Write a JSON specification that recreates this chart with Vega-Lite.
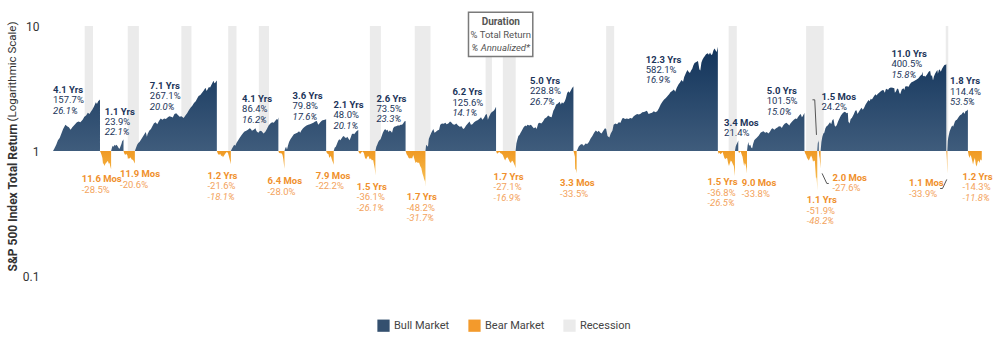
{
"$schema":"https://vega.github.io/schema/vega-lite/v6.json",
"width":936,"height":250,
"autosize":{"type":"none"},
"padding":{"left":49,"top":26,"right":18,"bottom":73},
"background":"white",
"config":{"view":{"stroke":null},"font":"Roboto"},
"datasets":{
"mkt":[
{"t":1942.32,"bull":1},{"t":1942.45,"bull":1.05},{"t":1942.6,"bull":1.12},{"t":1942.75,"bull":1.22},{"t":1942.9,"bull":1.27},{"t":1943.05,"bull":1.38},{"t":1943.2,"bull":1.5},{"t":1943.4,"bull":1.62},{"t":1943.55,"bull":1.58},{"t":1943.7,"bull":1.55},{"t":1943.85,"bull":1.48},{"t":1944.0,"bull":1.55},{"t":1944.2,"bull":1.62},{"t":1944.4,"bull":1.7},{"t":1944.55,"bull":1.72},{"t":1944.7,"bull":1.7},{"t":1944.9,"bull":1.78},{"t":1945.05,"bull":1.88},{"t":1945.2,"bull":1.92},{"t":1945.35,"bull":2.02},{"t":1945.5,"bull":1.98},{"t":1945.6,"bull":2.05},{"t":1945.75,"bull":2.15},{"t":1945.9,"bull":2.28},{"t":1946.05,"bull":2.45},{"t":1946.15,"bull":2.38},{"t":1946.25,"bull":2.5},{"t":1946.35,"bull":2.55},{"t":1946.41,"bull":2.577},
{"t":1946.41,"bear":1},{"t":1946.48,"bear":0.97},{"t":1946.55,"bear":0.93},{"t":1946.62,"bear":0.88},{"t":1946.68,"bear":0.78},{"t":1946.72,"bear":0.8},{"t":1946.8,"bear":0.76},{"t":1946.88,"bear":0.79},{"t":1946.95,"bear":0.8},{"t":1947.02,"bear":0.82},{"t":1947.1,"bear":0.83},{"t":1947.18,"bear":0.79},{"t":1947.25,"bear":0.8},{"t":1947.3,"bear":0.76},{"t":1947.38,"bear":0.715},
{"t":1947.38,"bull":1},{"t":1947.45,"bull":1.06},{"t":1947.52,"bull":1.1},{"t":1947.6,"bull":1.08},{"t":1947.68,"bull":1.12},{"t":1947.75,"bull":1.1},{"t":1947.85,"bull":1.12},{"t":1947.95,"bull":1.09},{"t":1948.05,"bull":1.05},{"t":1948.12,"bull":1.04},{"t":1948.2,"bull":1.09},{"t":1948.28,"bull":1.14},{"t":1948.35,"bull":1.2},{"t":1948.42,"bull":1.22},{"t":1948.46,"bull":1.239},
{"t":1948.46,"bear":1},{"t":1948.52,"bear":0.96},{"t":1948.6,"bear":0.93},{"t":1948.7,"bear":0.95},{"t":1948.8,"bear":0.92},{"t":1948.85,"bear":0.86},{"t":1948.92,"bear":0.88},{"t":1949.0,"bear":0.87},{"t":1949.08,"bear":0.89},{"t":1949.15,"bear":0.86},{"t":1949.25,"bear":0.85},{"t":1949.32,"bear":0.84},{"t":1949.4,"bear":0.81},{"t":1949.45,"bear":0.794},
{"t":1949.45,"bull":1},{"t":1949.55,"bull":1.06},{"t":1949.65,"bull":1.12},{"t":1949.75,"bull":1.16},{"t":1949.85,"bull":1.18},{"t":1949.95,"bull":1.22},{"t":1950.1,"bull":1.28},{"t":1950.25,"bull":1.35},{"t":1950.4,"bull":1.42},{"t":1950.5,"bull":1.3},{"t":1950.55,"bull":1.36},{"t":1950.7,"bull":1.45},{"t":1950.85,"bull":1.5},{"t":1950.95,"bull":1.56},{"t":1951.1,"bull":1.66},{"t":1951.25,"bull":1.7},{"t":1951.4,"bull":1.64},{"t":1951.55,"bull":1.74},{"t":1951.7,"bull":1.82},{"t":1951.85,"bull":1.78},{"t":1952.0,"bull":1.82},{"t":1952.15,"bull":1.8},{"t":1952.3,"bull":1.85},{"t":1952.45,"bull":1.9},{"t":1952.6,"bull":1.88},{"t":1952.75,"bull":1.85},{"t":1952.9,"bull":1.98},{"t":1953.05,"bull":2.0},{"t":1953.2,"bull":1.94},{"t":1953.35,"bull":1.88},{"t":1953.5,"bull":1.9},{"t":1953.7,"bull":1.84},{"t":1953.85,"bull":1.92},{"t":1954.0,"bull":2.0},{"t":1954.15,"bull":2.12},{"t":1954.3,"bull":2.22},{"t":1954.45,"bull":2.3},{"t":1954.6,"bull":2.42},{"t":1954.75,"bull":2.5},{"t":1954.9,"bull":2.65},{"t":1955.0,"bull":2.75},{"t":1955.15,"bull":2.8},{"t":1955.3,"bull":2.92},{"t":1955.45,"bull":3.05},{"t":1955.6,"bull":3.2},{"t":1955.7,"bull":3.02},{"t":1955.78,"bull":3.1},{"t":1955.9,"bull":3.25},{"t":1956.0,"bull":3.22},{"t":1956.1,"bull":3.35},{"t":1956.2,"bull":3.5},{"t":1956.3,"bull":3.65},{"t":1956.38,"bull":3.48},{"t":1956.45,"bull":3.52},{"t":1956.52,"bull":3.6},{"t":1956.59,"bull":3.671},
{"t":1956.59,"bear":1},{"t":1956.68,"bear":0.95},{"t":1956.78,"bear":0.93},{"t":1956.88,"bear":0.95},{"t":1956.97,"bear":0.91},{"t":1957.05,"bear":0.92},{"t":1957.12,"bear":0.89},{"t":1957.22,"bear":0.92},{"t":1957.35,"bear":0.96},{"t":1957.45,"bear":0.98},{"t":1957.55,"bear":0.97},{"t":1957.62,"bear":0.92},{"t":1957.7,"bear":0.86},{"t":1957.76,"bear":0.82},{"t":1957.81,"bear":0.784},
{"t":1957.81,"bull":1},{"t":1957.9,"bull":1.04},{"t":1958.0,"bull":1.08},{"t":1958.1,"bull":1.12},{"t":1958.2,"bull":1.1},{"t":1958.3,"bull":1.16},{"t":1958.45,"bull":1.22},{"t":1958.6,"bull":1.28},{"t":1958.75,"bull":1.34},{"t":1958.9,"bull":1.4},{"t":1959.0,"bull":1.43},{"t":1959.15,"bull":1.45},{"t":1959.3,"bull":1.48},{"t":1959.45,"bull":1.52},{"t":1959.55,"bull":1.5},{"t":1959.65,"bull":1.45},{"t":1959.8,"bull":1.48},{"t":1959.95,"bull":1.52},{"t":1960.05,"bull":1.44},{"t":1960.2,"bull":1.4},{"t":1960.35,"bull":1.45},{"t":1960.5,"bull":1.44},{"t":1960.65,"bull":1.38},{"t":1960.8,"bull":1.42},{"t":1960.95,"bull":1.5},{"t":1961.1,"bull":1.6},{"t":1961.25,"bull":1.66},{"t":1961.4,"bull":1.7},{"t":1961.55,"bull":1.68},{"t":1961.7,"bull":1.75},{"t":1961.82,"bull":1.8},{"t":1961.9,"bull":1.78},{"t":1961.95,"bull":1.864},
{"t":1961.95,"bear":1},{"t":1962.02,"bear":0.96},{"t":1962.1,"bear":0.97},{"t":1962.18,"bear":0.95},{"t":1962.25,"bear":0.96},{"t":1962.32,"bear":0.92},{"t":1962.38,"bear":0.86},{"t":1962.42,"bear":0.8},{"t":1962.45,"bear":0.76},{"t":1962.48,"bear":0.72},
{"t":1962.48,"bull":1},{"t":1962.55,"bull":1.05},{"t":1962.62,"bull":1.08},{"t":1962.7,"bull":1.03},{"t":1962.78,"bull":1.1},{"t":1962.88,"bull":1.18},{"t":1963.0,"bull":1.24},{"t":1963.15,"bull":1.3},{"t":1963.3,"bull":1.36},{"t":1963.45,"bull":1.38},{"t":1963.6,"bull":1.4},{"t":1963.75,"bull":1.44},{"t":1963.85,"bull":1.4},{"t":1963.95,"bull":1.46},{"t":1964.1,"bull":1.52},{"t":1964.25,"bull":1.56},{"t":1964.4,"bull":1.6},{"t":1964.55,"bull":1.62},{"t":1964.7,"bull":1.64},{"t":1964.85,"bull":1.66},{"t":1965.0,"bull":1.68},{"t":1965.15,"bull":1.72},{"t":1965.3,"bull":1.74},{"t":1965.42,"bull":1.62},{"t":1965.5,"bull":1.65},{"t":1965.6,"bull":1.7},{"t":1965.75,"bull":1.75},{"t":1965.9,"bull":1.77},{"t":1966.0,"bull":1.78},{"t":1966.11,"bull":1.798},
{"t":1966.11,"bear":1},{"t":1966.18,"bear":0.96},{"t":1966.25,"bear":0.95},{"t":1966.32,"bear":0.94},{"t":1966.38,"bear":0.88},{"t":1966.45,"bear":0.9},{"t":1966.52,"bear":0.91},{"t":1966.6,"bear":0.86},{"t":1966.68,"bear":0.82},{"t":1966.72,"bear":0.8},{"t":1966.77,"bear":0.778},
{"t":1966.77,"bull":1},{"t":1966.85,"bull":1.06},{"t":1966.95,"bull":1.08},{"t":1967.05,"bull":1.14},{"t":1967.15,"bull":1.2},{"t":1967.25,"bull":1.24},{"t":1967.35,"bull":1.22},{"t":1967.45,"bull":1.26},{"t":1967.55,"bull":1.3},{"t":1967.65,"bull":1.32},{"t":1967.75,"bull":1.28},{"t":1967.85,"bull":1.27},{"t":1967.95,"bull":1.3},{"t":1968.05,"bull":1.26},{"t":1968.15,"bull":1.22},{"t":1968.25,"bull":1.28},{"t":1968.35,"bull":1.36},{"t":1968.45,"bull":1.38},{"t":1968.55,"bull":1.36},{"t":1968.65,"bull":1.4},{"t":1968.75,"bull":1.44},{"t":1968.85,"bull":1.46},{"t":1968.91,"bull":1.48},
{"t":1968.91,"bear":1},{"t":1969.0,"bear":0.96},{"t":1969.1,"bear":0.95},{"t":1969.2,"bear":0.98},{"t":1969.3,"bear":0.99},{"t":1969.4,"bear":0.96},{"t":1969.5,"bear":0.88},{"t":1969.6,"bear":0.86},{"t":1969.7,"bear":0.9},{"t":1969.8,"bear":0.91},{"t":1969.9,"bear":0.86},{"t":1970.0,"bear":0.87},{"t":1970.1,"bear":0.84},{"t":1970.2,"bear":0.85},{"t":1970.28,"bear":0.78},{"t":1970.35,"bear":0.72},{"t":1970.4,"bear":0.639},
{"t":1970.4,"bull":1},{"t":1970.48,"bull":1.08},{"t":1970.56,"bull":1.12},{"t":1970.65,"bull":1.18},{"t":1970.75,"bull":1.22},{"t":1970.85,"bull":1.24},{"t":1970.95,"bull":1.32},{"t":1971.05,"bull":1.4},{"t":1971.15,"bull":1.46},{"t":1971.25,"bull":1.5},{"t":1971.35,"bull":1.46},{"t":1971.45,"bull":1.48},{"t":1971.55,"bull":1.42},{"t":1971.65,"bull":1.46},{"t":1971.75,"bull":1.44},{"t":1971.85,"bull":1.4},{"t":1971.95,"bull":1.52},{"t":1972.05,"bull":1.56},{"t":1972.2,"bull":1.58},{"t":1972.35,"bull":1.6},{"t":1972.5,"bull":1.6},{"t":1972.6,"bull":1.62},{"t":1972.72,"bull":1.62},{"t":1972.82,"bull":1.66},{"t":1972.92,"bull":1.72},{"t":1973.03,"bull":1.735},
{"t":1973.03,"bear":1},{"t":1973.12,"bear":0.94},{"t":1973.2,"bear":0.92},{"t":1973.3,"bear":0.88},{"t":1973.4,"bear":0.87},{"t":1973.5,"bear":0.88},{"t":1973.6,"bear":0.87},{"t":1973.7,"bear":0.93},{"t":1973.8,"bear":0.86},{"t":1973.9,"bear":0.8},{"t":1974.0,"bear":0.82},{"t":1974.1,"bear":0.8},{"t":1974.2,"bear":0.81},{"t":1974.3,"bear":0.76},{"t":1974.4,"bear":0.73},{"t":1974.5,"bear":0.66},{"t":1974.6,"bear":0.62},{"t":1974.68,"bear":0.57},{"t":1974.72,"bear":0.6},{"t":1974.76,"bear":0.518},
{"t":1974.76,"bull":1},{"t":1974.82,"bull":1.12},{"t":1974.9,"bull":1.1},{"t":1974.98,"bull":1.08},{"t":1975.05,"bull":1.25},{"t":1975.15,"bull":1.32},{"t":1975.3,"bull":1.42},{"t":1975.45,"bull":1.5},{"t":1975.55,"bull":1.4},{"t":1975.65,"bull":1.42},{"t":1975.8,"bull":1.46},{"t":1975.95,"bull":1.48},{"t":1976.05,"bull":1.62},{"t":1976.2,"bull":1.66},{"t":1976.35,"bull":1.65},{"t":1976.5,"bull":1.68},{"t":1976.6,"bull":1.64},{"t":1976.75,"bull":1.66},{"t":1976.9,"bull":1.72},{"t":1977.0,"bull":1.7},{"t":1977.15,"bull":1.64},{"t":1977.3,"bull":1.62},{"t":1977.45,"bull":1.66},{"t":1977.6,"bull":1.6},{"t":1977.75,"bull":1.56},{"t":1977.9,"bull":1.58},{"t":1978.05,"bull":1.5},{"t":1978.15,"bull":1.52},{"t":1978.3,"bull":1.6},{"t":1978.45,"bull":1.66},{"t":1978.6,"bull":1.72},{"t":1978.72,"bull":1.62},{"t":1978.85,"bull":1.64},{"t":1979.0,"bull":1.7},{"t":1979.15,"bull":1.74},{"t":1979.3,"bull":1.76},{"t":1979.45,"bull":1.8},{"t":1979.6,"bull":1.86},{"t":1979.72,"bull":1.78},{"t":1979.85,"bull":1.84},{"t":1980.0,"bull":1.95},{"t":1980.1,"bull":1.98},{"t":1980.2,"bull":1.78},{"t":1980.3,"bull":1.88},{"t":1980.45,"bull":2.0},{"t":1980.55,"bull":2.05},{"t":1980.65,"bull":2.08},{"t":1980.75,"bull":2.12},{"t":1980.85,"bull":2.2},{"t":1980.91,"bull":2.256},
{"t":1980.91,"bear":1},{"t":1981.0,"bear":0.95},{"t":1981.1,"bear":0.97},{"t":1981.2,"bear":0.98},{"t":1981.3,"bear":0.96},{"t":1981.4,"bear":0.95},{"t":1981.5,"bear":0.93},{"t":1981.6,"bear":0.88},{"t":1981.7,"bear":0.84},{"t":1981.8,"bear":0.88},{"t":1981.9,"bear":0.89},{"t":1982.0,"bear":0.86},{"t":1982.1,"bear":0.82},{"t":1982.2,"bear":0.8},{"t":1982.3,"bear":0.84},{"t":1982.4,"bear":0.82},{"t":1982.5,"bear":0.78},{"t":1982.56,"bear":0.76},{"t":1982.61,"bear":0.729},
{"t":1982.61,"bull":1},{"t":1982.68,"bull":1.15},{"t":1982.75,"bull":1.22},{"t":1982.85,"bull":1.32},{"t":1982.95,"bull":1.34},{"t":1983.05,"bull":1.4},{"t":1983.15,"bull":1.45},{"t":1983.3,"bull":1.54},{"t":1983.45,"bull":1.6},{"t":1983.55,"bull":1.58},{"t":1983.65,"bull":1.62},{"t":1983.8,"bull":1.6},{"t":1983.95,"bull":1.62},{"t":1984.05,"bull":1.58},{"t":1984.2,"bull":1.52},{"t":1984.35,"bull":1.55},{"t":1984.45,"bull":1.5},{"t":1984.58,"bull":1.66},{"t":1984.7,"bull":1.68},{"t":1984.85,"bull":1.66},{"t":1985.0,"bull":1.72},{"t":1985.15,"bull":1.82},{"t":1985.3,"bull":1.85},{"t":1985.45,"bull":1.92},{"t":1985.6,"bull":1.88},{"t":1985.75,"bull":1.86},{"t":1985.9,"bull":2.1},{"t":1986.0,"bull":2.18},{"t":1986.15,"bull":2.35},{"t":1986.3,"bull":2.4},{"t":1986.45,"bull":2.48},{"t":1986.55,"bull":2.36},{"t":1986.65,"bull":2.45},{"t":1986.75,"bull":2.4},{"t":1986.9,"bull":2.5},{"t":1987.0,"bull":2.65},{"t":1987.1,"bull":2.9},{"t":1987.2,"bull":3.0},{"t":1987.3,"bull":2.92},{"t":1987.4,"bull":3.02},{"t":1987.5,"bull":3.15},{"t":1987.6,"bull":3.25},{"t":1987.65,"bull":3.288},
{"t":1987.65,"bear":1},{"t":1987.72,"bear":0.95},{"t":1987.78,"bear":0.9},{"t":1987.8,"bear":0.7},{"t":1987.84,"bear":0.72},{"t":1987.88,"bear":0.7},{"t":1987.93,"bear":0.665},
{"t":1987.93,"bull":1},{"t":1988.0,"bull":1.03},{"t":1988.1,"bull":1.08},{"t":1988.25,"bull":1.12},{"t":1988.4,"bull":1.14},{"t":1988.55,"bull":1.1},{"t":1988.7,"bull":1.15},{"t":1988.85,"bull":1.14},{"t":1989.0,"bull":1.18},{"t":1989.15,"bull":1.26},{"t":1989.3,"bull":1.32},{"t":1989.45,"bull":1.4},{"t":1989.6,"bull":1.46},{"t":1989.75,"bull":1.42},{"t":1989.85,"bull":1.45},{"t":1990.0,"bull":1.4},{"t":1990.1,"bull":1.38},{"t":1990.25,"bull":1.45},{"t":1990.4,"bull":1.52},{"t":1990.5,"bull":1.5},{"t":1990.62,"bull":1.32},{"t":1990.78,"bull":1.28},{"t":1990.9,"bull":1.38},{"t":1991.05,"bull":1.46},{"t":1991.15,"bull":1.62},{"t":1991.3,"bull":1.66},{"t":1991.45,"bull":1.64},{"t":1991.6,"bull":1.7},{"t":1991.75,"bull":1.68},{"t":1991.9,"bull":1.82},{"t":1992.0,"bull":1.84},{"t":1992.15,"bull":1.8},{"t":1992.3,"bull":1.82},{"t":1992.45,"bull":1.8},{"t":1992.6,"bull":1.84},{"t":1992.75,"bull":1.82},{"t":1992.9,"bull":1.9},{"t":1993.05,"bull":1.94},{"t":1993.2,"bull":1.98},{"t":1993.35,"bull":1.96},{"t":1993.5,"bull":1.99},{"t":1993.65,"bull":2.04},{"t":1993.8,"bull":2.05},{"t":1993.95,"bull":2.08},{"t":1994.05,"bull":2.1},{"t":1994.2,"bull":1.98},{"t":1994.35,"bull":2.0},{"t":1994.5,"bull":2.02},{"t":1994.65,"bull":2.08},{"t":1994.8,"bull":2.04},{"t":1994.95,"bull":2.08},{"t":1995.1,"bull":2.2},{"t":1995.25,"bull":2.35},{"t":1995.4,"bull":2.48},{"t":1995.55,"bull":2.58},{"t":1995.7,"bull":2.66},{"t":1995.85,"bull":2.76},{"t":1996.0,"bull":2.86},{"t":1996.1,"bull":2.95},{"t":1996.25,"bull":3.02},{"t":1996.4,"bull":3.1},{"t":1996.52,"bull":2.98},{"t":1996.65,"bull":3.2},{"t":1996.8,"bull":3.4},{"t":1996.95,"bull":3.55},{"t":1997.05,"bull":3.7},{"t":1997.2,"bull":3.58},{"t":1997.3,"bull":3.9},{"t":1997.45,"bull":4.2},{"t":1997.58,"bull":4.45},{"t":1997.68,"bull":4.3},{"t":1997.8,"bull":4.2},{"t":1997.9,"bull":4.4},{"t":1998.0,"bull":4.55},{"t":1998.1,"bull":4.85},{"t":1998.2,"bull":5.05},{"t":1998.35,"bull":5.15},{"t":1998.5,"bull":5.25},{"t":1998.62,"bull":4.5},{"t":1998.7,"bull":4.4},{"t":1998.8,"bull":5.1},{"t":1998.9,"bull":5.4},{"t":1999.0,"bull":5.6},{"t":1999.1,"bull":5.75},{"t":1999.2,"bull":5.95},{"t":1999.35,"bull":6.05},{"t":1999.45,"bull":5.9},{"t":1999.55,"bull":6.15},{"t":1999.65,"bull":5.85},{"t":1999.75,"bull":5.95},{"t":1999.85,"bull":6.4},{"t":1999.95,"bull":6.6},{"t":2000.05,"bull":6.35},{"t":2000.12,"bull":6.2},{"t":2000.18,"bull":6.5},{"t":2000.23,"bull":6.821},
{"t":2000.23,"bear":1},{"t":2000.3,"bear":0.95},{"t":2000.38,"bear":0.97},{"t":2000.46,"bear":0.94},{"t":2000.55,"bear":0.96},{"t":2000.65,"bear":0.98},{"t":2000.72,"bear":0.93},{"t":2000.8,"bear":0.88},{"t":2000.88,"bear":0.86},{"t":2000.96,"bear":0.88},{"t":2001.05,"bear":0.87},{"t":2001.12,"bear":0.8},{"t":2001.2,"bear":0.76},{"t":2001.28,"bear":0.8},{"t":2001.36,"bear":0.84},{"t":2001.45,"bear":0.82},{"t":2001.55,"bear":0.78},{"t":2001.62,"bear":0.76},{"t":2001.68,"bear":0.68},{"t":2001.72,"bear":0.632},
{"t":2001.72,"bull":1},{"t":2001.78,"bull":1.08},{"t":2001.84,"bull":1.12},{"t":2001.9,"bull":1.15},{"t":2001.96,"bull":1.18},{"t":2002.01,"bull":1.214},
{"t":2002.01,"bear":1},{"t":2002.08,"bear":0.96},{"t":2002.15,"bear":0.98},{"t":2002.22,"bear":0.99},{"t":2002.3,"bear":0.94},{"t":2002.38,"bear":0.9},{"t":2002.45,"bear":0.82},{"t":2002.52,"bear":0.76},{"t":2002.58,"bear":0.8},{"t":2002.65,"bear":0.78},{"t":2002.72,"bear":0.72},{"t":2002.77,"bear":0.662},
{"t":2002.77,"bull":1},{"t":2002.82,"bull":1.1},{"t":2002.88,"bull":1.18},{"t":2002.95,"bull":1.1},{"t":2003.05,"bull":1.12},{"t":2003.15,"bull":1.06},{"t":2003.22,"bull":1.05},{"t":2003.3,"bull":1.14},{"t":2003.4,"bull":1.22},{"t":2003.5,"bull":1.25},{"t":2003.6,"bull":1.27},{"t":2003.7,"bull":1.3},{"t":2003.8,"bull":1.33},{"t":2003.95,"bull":1.4},{"t":2004.05,"bull":1.42},{"t":2004.2,"bull":1.44},{"t":2004.35,"bull":1.4},{"t":2004.5,"bull":1.42},{"t":2004.62,"bull":1.38},{"t":2004.75,"bull":1.42},{"t":2004.9,"bull":1.5},{"t":2005.0,"bull":1.52},{"t":2005.15,"bull":1.48},{"t":2005.3,"bull":1.52},{"t":2005.45,"bull":1.55},{"t":2005.55,"bull":1.58},{"t":2005.7,"bull":1.57},{"t":2005.8,"bull":1.53},{"t":2005.92,"bull":1.6},{"t":2006.05,"bull":1.65},{"t":2006.2,"bull":1.68},{"t":2006.35,"bull":1.64},{"t":2006.45,"bull":1.6},{"t":2006.55,"bull":1.66},{"t":2006.7,"bull":1.72},{"t":2006.85,"bull":1.78},{"t":2007.0,"bull":1.82},{"t":2007.12,"bull":1.8},{"t":2007.2,"bull":1.86},{"t":2007.35,"bull":1.94},{"t":2007.45,"bull":1.98},{"t":2007.55,"bull":1.86},{"t":2007.62,"bull":1.9},{"t":2007.7,"bull":1.96},{"t":2007.77,"bull":2.015},
{"t":2007.77,"bear":1},{"t":2007.85,"bear":0.95},{"t":2007.92,"bear":0.93},{"t":2008.0,"bear":0.88},{"t":2008.08,"bear":0.86},{"t":2008.16,"bear":0.84},{"t":2008.25,"bear":0.88},{"t":2008.35,"bear":0.92},{"t":2008.45,"bear":0.88},{"t":2008.52,"bear":0.82},{"t":2008.6,"bear":0.84},{"t":2008.68,"bear":0.83},{"t":2008.72,"bear":0.72},{"t":2008.78,"bear":0.6},{"t":2008.82,"bear":0.62},{"t":2008.86,"bear":0.56},{"t":2008.89,"bear":0.481},
{"t":2008.89,"bull":1},{"t":2008.93,"bull":1.14},{"t":2008.97,"bull":1.2},{"t":2009.0,"bull":1.16},{"t":2009.02,"bull":1.242},
{"t":2009.02,"bear":1},{"t":2009.06,"bear":0.92},{"t":2009.1,"bear":0.88},{"t":2009.14,"bear":0.8},{"t":2009.18,"bear":0.724},
{"t":2009.18,"bull":1},{"t":2009.25,"bull":1.18},{"t":2009.33,"bull":1.3},{"t":2009.42,"bull":1.38},{"t":2009.5,"bull":1.4},{"t":2009.6,"bull":1.52},{"t":2009.7,"bull":1.58},{"t":2009.8,"bull":1.6},{"t":2009.92,"bull":1.66},{"t":2010.0,"bull":1.7},{"t":2010.1,"bull":1.64},{"t":2010.2,"bull":1.76},{"t":2010.3,"bull":1.8},{"t":2010.4,"bull":1.6},{"t":2010.5,"bull":1.56},{"t":2010.6,"bull":1.62},{"t":2010.7,"bull":1.72},{"t":2010.8,"bull":1.8},{"t":2010.95,"bull":1.92},{"t":2011.1,"bull":2.0},{"t":2011.2,"bull":2.04},{"t":2011.3,"bull":2.06},{"t":2011.45,"bull":2.0},{"t":2011.55,"bull":2.02},{"t":2011.6,"bull":1.72},{"t":2011.7,"bull":1.66},{"t":2011.8,"bull":1.8},{"t":2011.9,"bull":1.84},{"t":2012.05,"bull":1.95},{"t":2012.2,"bull":2.1},{"t":2012.3,"bull":2.12},{"t":2012.4,"bull":1.98},{"t":2012.5,"bull":2.05},{"t":2012.65,"bull":2.16},{"t":2012.75,"bull":2.22},{"t":2012.85,"bull":2.14},{"t":2012.95,"bull":2.2},{"t":2013.1,"bull":2.36},{"t":2013.25,"bull":2.48},{"t":2013.35,"bull":2.56},{"t":2013.45,"bull":2.5},{"t":2013.55,"bull":2.62},{"t":2013.65,"bull":2.58},{"t":2013.8,"bull":2.72},{"t":2013.95,"bull":2.85},{"t":2014.05,"bull":2.78},{"t":2014.15,"bull":2.86},{"t":2014.3,"bull":2.94},{"t":2014.45,"bull":3.02},{"t":2014.55,"bull":3.06},{"t":2014.65,"bull":3.08},{"t":2014.78,"bull":2.92},{"t":2014.85,"bull":3.1},{"t":2014.95,"bull":3.15},{"t":2015.05,"bull":3.08},{"t":2015.15,"bull":3.18},{"t":2015.3,"bull":3.22},{"t":2015.45,"bull":3.2},{"t":2015.6,"bull":3.18},{"t":2015.65,"bull":2.92},{"t":2015.75,"bull":3.0},{"t":2015.85,"bull":3.16},{"t":2015.95,"bull":3.12},{"t":2016.05,"bull":2.9},{"t":2016.12,"bull":2.86},{"t":2016.25,"bull":3.1},{"t":2016.4,"bull":3.18},{"t":2016.48,"bull":3.08},{"t":2016.55,"bull":3.28},{"t":2016.7,"bull":3.3},{"t":2016.85,"bull":3.26},{"t":2016.95,"bull":3.42},{"t":2017.1,"bull":3.55},{"t":2017.25,"bull":3.6},{"t":2017.4,"bull":3.66},{"t":2017.55,"bull":3.74},{"t":2017.7,"bull":3.82},{"t":2017.85,"bull":3.98},{"t":2018.0,"bull":4.1},{"t":2018.05,"bull":4.3},{"t":2018.1,"bull":3.96},{"t":2018.2,"bull":4.0},{"t":2018.3,"bull":3.92},{"t":2018.45,"bull":4.1},{"t":2018.6,"bull":4.3},{"t":2018.72,"bull":4.38},{"t":2018.8,"bull":3.96},{"t":2018.88,"bull":4.05},{"t":2018.97,"bull":3.66},{"t":2019.05,"bull":3.95},{"t":2019.15,"bull":4.15},{"t":2019.25,"bull":4.3},{"t":2019.35,"bull":4.45},{"t":2019.4,"bull":4.15},{"t":2019.5,"bull":4.5},{"t":2019.6,"bull":4.4},{"t":2019.65,"bull":4.3},{"t":2019.75,"bull":4.52},{"t":2019.85,"bull":4.7},{"t":2019.95,"bull":4.85},{"t":2020.05,"bull":4.92},{"t":2020.1,"bull":4.88},{"t":2020.13,"bull":5.005},
{"t":2020.13,"bear":1},{"t":2020.16,"bear":0.92},{"t":2020.18,"bear":0.85},{"t":2020.2,"bear":0.72},{"t":2020.22,"bear":0.661},
{"t":2020.22,"bull":1},{"t":2020.26,"bull":1.2},{"t":2020.3,"bull":1.28},{"t":2020.36,"bull":1.36},{"t":2020.42,"bull":1.44},{"t":2020.5,"bull":1.5},{"t":2020.58,"bull":1.56},{"t":2020.66,"bull":1.6},{"t":2020.72,"bull":1.56},{"t":2020.8,"bull":1.64},{"t":2020.88,"bull":1.72},{"t":2020.96,"bull":1.76},{"t":2021.05,"bull":1.78},{"t":2021.15,"bull":1.84},{"t":2021.25,"bull":1.9},{"t":2021.35,"bull":1.94},{"t":2021.45,"bull":1.96},{"t":2021.55,"bull":2.02},{"t":2021.65,"bull":2.04},{"t":2021.72,"bull":1.98},{"t":2021.8,"bull":2.08},{"t":2021.9,"bull":2.1},{"t":2021.96,"bull":2.12},{"t":2022.01,"bull":2.144},
{"t":2022.01,"bear":1},{"t":2022.08,"bear":0.92},{"t":2022.15,"bear":0.88},{"t":2022.22,"bear":0.93},{"t":2022.3,"bear":0.9},{"t":2022.38,"bear":0.84},{"t":2022.46,"bear":0.78},{"t":2022.54,"bear":0.84},{"t":2022.62,"bear":0.88},{"t":2022.7,"bear":0.78},{"t":2022.78,"bear":0.75},{"t":2022.86,"bear":0.82},{"t":2022.94,"bear":0.84},{"t":2023.02,"bear":0.8},{"t":2023.1,"bear":0.86},{"t":2023.18,"bear":0.84},{"t":2023.22,"bear":0.857}
],
"rec":[
{"s":1945.08,"e":1945.8,"k":"Recession"},{"s":1948.83,"e":1949.8,"k":"Recession"},{"s":1953.5,"e":1954.38,"k":"Recession"},{"s":1957.58,"e":1958.3,"k":"Recession"},{"s":1960.25,"e":1961.13,"k":"Recession"},{"s":1969.92,"e":1970.88,"k":"Recession"},{"s":1973.83,"e":1975.2,"k":"Recession"},{"s":1980.0,"e":1980.55,"k":"Recession"},{"s":1981.5,"e":1982.62,"k":"Recession"},{"s":1990.5,"e":1991.2,"k":"Recession"},{"s":2001.17,"e":2001.88,"k":"Recession"},{"s":2007.92,"e":2009.45,"k":"Recession"},{"s":2020.08,"e":2020.3,"k":"Recession"}
],
"ann":[
{"kind":"bull","t":1942.32,"v":3.09,"l1":"4.1 Yrs","l2":"157.7%","l3":"26.1%"},
{"kind":"bull","t":1946.83,"v":2.069,"l1":"1.1 Yrs","l2":"23.9%","l3":"22.1%"},
{"kind":"bull","t":1950.75,"v":3.327,"l1":"7.1 Yrs","l2":"267.1%","l3":"20.0%"},
{"kind":"bull","t":1958.79,"v":2.617,"l1":"4.1 Yrs","l2":"86.4%","l3":"16.2%"},
{"kind":"bull","t":1963.18,"v":2.765,"l1":"3.6 Yrs","l2":"79.8%","l3":"17.6%"},
{"kind":"bull","t":1966.75,"v":2.342,"l1":"2.1 Yrs","l2":"48.0%","l3":"20.1%"},
{"kind":"bull","t":1970.49,"v":2.63,"l1":"2.6 Yrs","l2":"73.5%","l3":"23.3%"},
{"kind":"bull","t":1977.11,"v":2.94,"l1":"6.2 Yrs","l2":"125.6%","l3":"14.1%"},
{"kind":"bull","t":1983.87,"v":3.65,"l1":"5.0 Yrs","l2":"228.8%","l3":"26.7%"},
{"kind":"bull","t":1993.95,"v":5.381,"l1":"12.3 Yrs","l2":"582.1%","l3":"16.9%"},
{"kind":"bull","t":2000.77,"v":1.688,"l1":"3.4 Mos","l2":"21.4%","l3":""},
{"kind":"bull","t":2004.49,"v":3.033,"l1":"5.0 Yrs","l2":"101.5%","l3":"15.0%"},
{"kind":"bull","t":2009.26,"v":2.715,"l1":"1.5 Mos","l2":"24.2%","l3":""},
{"kind":"bull","t":2015.35,"v":5.979,"l1":"11.0 Yrs","l2":"400.5%","l3":"15.8%"},
{"kind":"bull","t":2020.46,"v":3.603,"l1":"1.8 Yrs","l2":"114.4%","l3":"53.5%"},
{"kind":"bear","t":1944.82,"v":0.5924,"l1":"11.6 Mos","l2":"-28.5%","l3":""},
{"kind":"bear","t":1948.16,"v":0.6533,"l1":"11.9 Mos","l2":"-20.6%","l3":""},
{"kind":"bear","t":1955.77,"v":0.63,"l1":"1.2 Yrs","l2":"-21.6%","l3":"-18.1%"},
{"kind":"bear","t":1961.0,"v":0.574,"l1":"6.4 Mos","l2":"-28.0%","l3":""},
{"kind":"bear","t":1965.21,"v":0.63,"l1":"7.9 Mos","l2":"-22.2%","l3":""},
{"kind":"bear","t":1968.78,"v":0.5168,"l1":"1.5 Yrs","l2":"-36.1%","l3":"-26.1%"},
{"kind":"bear","t":1973.13,"v":0.4247,"l1":"1.7 Yrs","l2":"-48.2%","l3":"-31.7%"},
{"kind":"bear","t":1980.69,"v":0.6216,"l1":"1.7 Yrs","l2":"-27.1%","l3":"-16.9%"},
{"kind":"bear","t":1986.49,"v":0.55,"l1":"3.3 Mos","l2":"-33.5%","l3":""},
{"kind":"bear","t":1999.33,"v":0.5603,"l1":"1.5 Yrs","l2":"-36.8%","l3":"-26.5%"},
{"kind":"bear","t":2002.31,"v":0.55,"l1":"9.0 Mos","l2":"-33.8%","l3":""},
{"kind":"bear","t":2007.98,"v":0.4041,"l1":"1.1 Yrs","l2":"-51.9%","l3":"-48.2%"},
{"kind":"bear","t":2010.21,"v":0.6105,"l1":"2.0 Mos","l2":"-27.6%","l3":""},
{"kind":"bear","t":2016.89,"v":0.55,"l1":"1.1 Mos","l2":"-33.9%","l3":""},
{"kind":"bear","t":2021.54,"v":0.6216,"l1":"1.2 Yrs","l2":"-14.3%","l3":"-11.8%"}
],
"lead":[
{"id":1,"t":2008.47,"v":2.568},{"id":1,"t":2008.67,"v":2.568},{"id":1,"t":2008.82,"v":1.345},
{"id":2,"t":2009.31,"v":0.662},{"id":2,"t":2009.72,"v":0.55},{"id":2,"t":2009.89,"v":0.55},
{"id":3,"t":2019.59,"v":0.5014},{"id":3,"t":2019.8,"v":0.5014},{"id":3,"t":2020.17,"v":0.5924}
],
"box":[{"t1":1978.51,"t2":1984.11,"v1":12.91,"v2":5.69,"t":1981.32,"v":10.67,"a":"Duration","b":"% Total Return","c":"% Annualized*"}]
},
"resolve":{"axis":{"y":"independent"}},
"layer":[
{"data":{"name":"rec"},"mark":{"type":"rect"},
 "encoding":{
  "x":{"field":"s","type":"quantitative","scale":{"domain":[1941.97,2023.5],"nice":false,"zero":false},
       "axis":{"title":null,"values":[1942,1945,1948,1951,1954,1957,1960,1963,1966,1969,1972,1975,1978,1981,1984,1987,1990,1993,1996,1999,2002,2005,2008,2011,2014,2017,2020,2023],"format":"d","grid":false,"ticks":false,"domain":false,"labelFontSize":10.5,"labelColor":"#333","labelPadding":7,"labelOffset":3}},
  "x2":{"field":"e"},
  "y":{"datum":1,"type":"quantitative","scale":{"type":"log","domain":[0.1,10],"nice":false},
       "axis":{"orient":"left","values":[0.1,1,10],"format":"~g","grid":false,"ticks":false,"domain":false,"labelFontSize":12,"labelColor":"#333","labelPadding":10,
               "title":"S&P 500 Index Total Return","titleFontWeight":"bold","titleFontSize":12,"titleColor":"#333","titleAngle":-90,"titleAlign":"left","titleBaseline":"middle","titleX":-37,"titleY":245}},
  "y2":{"datum":10},
  "fill":{"field":"k","type":"nominal","scale":{"domain":["Bull Market","Bear Market","Recession"],"range":["#34506f","#f39a2c","#ebebeb"]},
          "legend":{"title":null,"orient":"none","legendX":328,"legendY":293,"direction":"horizontal","symbolType":"square","symbolSize":150,"symbolStrokeWidth":0,"labelFontSize":11,"labelColor":"#444","columnPadding":18,"padding":0}}
 }},
{"data":{"name":"mkt"},"mark":{"type":"area","interpolate":"linear","color":{"gradient":"linear","x1":0,"y1":0,"x2":0,"y2":1,"stops":[{"offset":0,"color":"#12345b"},{"offset":1,"color":"#3f5c7c"}]}},
 "encoding":{
  "x":{"field":"t","type":"quantitative","axis":null},
  "y":{"field":"bull","type":"quantitative","scale":{"type":"log"},
       "axis":{"orient":"right","labels":false,"ticks":false,"domain":false,"grid":false,"title":"(Logarithmic Scale)","titleFontWeight":"normal","titleFontSize":11.5,"titleColor":"#333","titleAngle":-90,"titleAlign":"left","titleBaseline":"middle","titleX":-973,"titleY":95}},
  "y2":{"datum":1}
 }},
{"data":{"name":"mkt"},"mark":{"type":"area","interpolate":"linear","color":{"gradient":"linear","x1":0,"y1":0,"x2":0,"y2":1,"stops":[{"offset":0,"color":"#f09a24"},{"offset":1,"color":"#f8c65a"}]}},
 "encoding":{
  "x":{"field":"t","type":"quantitative","axis":null},
  "y":{"field":"bear","type":"quantitative","scale":{"type":"log"},"axis":null},
  "y2":{"datum":1}
 }},
{"mark":{"type":"rule","color":"#4a6686","strokeWidth":1.3},
 "encoding":{"x":{"datum":1942.32,"type":"quantitative","axis":null},"x2":{"datum":2023.22},"y":{"datum":1,"type":"quantitative","axis":null}}},
{"data":{"name":"lead"},"mark":{"type":"line","color":"#555","strokeWidth":1},
 "encoding":{"x":{"field":"t","type":"quantitative","axis":null},"y":{"field":"v","type":"quantitative","axis":null},"detail":{"field":"id"}}},
{"data":{"name":"box"},"mark":{"type":"rect","fill":"white","stroke":"#7a7a7a","strokeWidth":1.5},
 "encoding":{"x":{"field":"t1","type":"quantitative","axis":null},"x2":{"field":"t2"},"y":{"field":"v1","type":"quantitative","axis":null},"y2":{"field":"v2"}}},
{"data":{"name":"box"},"mark":{"type":"text","align":"center","baseline":"middle","fontSize":10,"fontWeight":"bold","color":"#555"},
 "encoding":{"x":{"field":"t","type":"quantitative","axis":null},"y":{"field":"v","type":"quantitative","axis":null},"text":{"field":"a"}}},
{"data":{"name":"box"},"mark":{"type":"text","align":"center","baseline":"middle","fontSize":9.5,"dy":13,"color":"#555"},
 "encoding":{"x":{"field":"t","type":"quantitative","axis":null},"y":{"field":"v","type":"quantitative","axis":null},"text":{"field":"b"}}},
{"data":{"name":"box"},"mark":{"type":"text","align":"center","baseline":"middle","fontSize":9.5,"dy":26,"fontStyle":"italic","color":"#555"},
 "encoding":{"x":{"field":"t","type":"quantitative","axis":null},"y":{"field":"v","type":"quantitative","axis":null},"text":{"field":"c"}}},
{"data":{"name":"ann"},"transform":[{"filter":"datum.kind==='bull'"}],"mark":{"type":"text","align":"left","baseline":"middle","fontSize":9.5,"fontWeight":"bold","color":"#1c355a"},
 "encoding":{"x":{"field":"t","type":"quantitative","axis":null},"y":{"field":"v","type":"quantitative","axis":null},"text":{"field":"l1"}}},
{"data":{"name":"ann"},"transform":[{"filter":"datum.kind==='bull'"}],"mark":{"type":"text","align":"left","baseline":"middle","fontSize":9.5,"dy":10.4,"color":"#1c355a"},
 "encoding":{"x":{"field":"t","type":"quantitative","axis":null},"y":{"field":"v","type":"quantitative","axis":null},"text":{"field":"l2"}}},
{"data":{"name":"ann"},"transform":[{"filter":"datum.kind==='bull'"}],"mark":{"type":"text","align":"left","baseline":"middle","fontSize":9.5,"dy":20.8,"fontStyle":"italic","color":"#1c355a"},
 "encoding":{"x":{"field":"t","type":"quantitative","axis":null},"y":{"field":"v","type":"quantitative","axis":null},"text":{"field":"l3"}}},
{"data":{"name":"ann"},"transform":[{"filter":"datum.kind==='bear'"}],"mark":{"type":"text","align":"left","baseline":"middle","fontSize":9.5,"fontWeight":"bold","color":"#f0902c"},
 "encoding":{"x":{"field":"t","type":"quantitative","axis":null},"y":{"field":"v","type":"quantitative","axis":null},"text":{"field":"l1"}}},
{"data":{"name":"ann"},"transform":[{"filter":"datum.kind==='bear'"}],"mark":{"type":"text","align":"left","baseline":"middle","fontSize":9.5,"dy":10.4,"color":"#f3a35c"},
 "encoding":{"x":{"field":"t","type":"quantitative","axis":null},"y":{"field":"v","type":"quantitative","axis":null},"text":{"field":"l2"}}},
{"data":{"name":"ann"},"transform":[{"filter":"datum.kind==='bear'"}],"mark":{"type":"text","align":"left","baseline":"middle","fontSize":9.5,"dy":20.8,"fontStyle":"italic","color":"#f3a35c"},
 "encoding":{"x":{"field":"t","type":"quantitative","axis":null},"y":{"field":"v","type":"quantitative","axis":null},"text":{"field":"l3"}}}
]
}
